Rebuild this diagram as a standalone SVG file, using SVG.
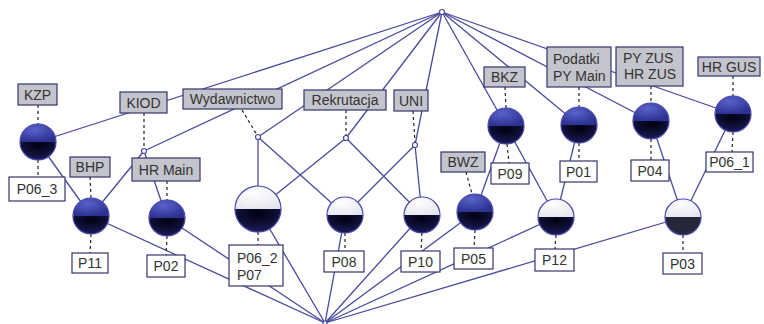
<svg xmlns="http://www.w3.org/2000/svg" width="764" height="324" viewBox="0 0 764 324">
<style>
.e{stroke:#4a4a9e;stroke-width:1.3;fill:none}
.d{stroke:#222;stroke-width:1.2;stroke-dasharray:3 3;fill:none}
.al{fill:#c4c4cc;stroke:#34346e;stroke-width:1.2}
.ol{fill:#fff;stroke:#34346e;stroke-width:1.2}
.t{font-family:"Liberation Sans",Arial,sans-serif;font-size:14px;fill:#333}
.m{text-anchor:middle}
.bt{fill:url(#gb)}
.bk{fill:url(#gk)}
.wt{fill:url(#gw)}
.ring{fill:none;stroke:#4a4aa8;stroke-width:1.2}
.sm{fill:#fff;stroke:#4a4a9e;stroke-width:1.2}
</style>
<defs>
<radialGradient id="gb" cx="0.4" cy="0.3" r="0.7"><stop offset="0" stop-color="#5a62cc"/><stop offset="1" stop-color="#2c3290"/></radialGradient>
<radialGradient id="gk" cx="0.5" cy="0.2" r="0.8"><stop offset="0" stop-color="#000010"/><stop offset="1" stop-color="#1c1c58"/></radialGradient>
<radialGradient id="gw" cx="0.4" cy="0.3" r="0.8"><stop offset="0" stop-color="#ffffff"/><stop offset="1" stop-color="#e4e4ee"/></radialGradient>
<g id="ab">
<path class="bt" d="M-18,0 A18,18 0 0 1 18,0 Z"/>
<path class="bk" d="M-18,0 A18,18 0 0 0 18,0 Z"/>
<circle class="ring" r="18"/>
</g>
<g id="wb">
<path class="wt" d="M-18,0 A18,18 0 0 1 18,0 Z"/>
<path class="bk" d="M-18,0 A18,18 0 0 0 18,0 Z"/>
<circle class="ring" r="18"/>
</g>
</defs>
<rect width="764" height="324" fill="#fff"/>
<g id="connectors">
<line class="e" x1="442" y1="12" x2="38" y2="142"/>
<line class="e" x1="442" y1="12" x2="144" y2="151"/>
<line class="e" x1="442" y1="12" x2="258" y2="137"/>
<line class="e" x1="442" y1="12" x2="346" y2="138"/>
<line class="e" x1="442" y1="12" x2="415" y2="145"/>
<line class="e" x1="442" y1="12" x2="506" y2="126"/>
<line class="e" x1="442" y1="12" x2="579" y2="125"/>
<line class="e" x1="442" y1="12" x2="651" y2="121"/>
<line class="e" x1="442" y1="12" x2="733" y2="114"/>
<line class="e" x1="38" y1="142" x2="91" y2="216"/>
<line class="e" x1="144" y1="151" x2="91" y2="216"/>
<line class="e" x1="144" y1="151" x2="167" y2="218"/>
<line class="e" x1="258" y1="137" x2="258" y2="209"/>
<line class="e" x1="346" y1="138" x2="258" y2="209"/>
<line class="e" x1="258" y1="137" x2="345" y2="215"/>
<line class="e" x1="415" y1="145" x2="345" y2="215"/>
<line class="e" x1="346" y1="138" x2="422" y2="215"/>
<line class="e" x1="415" y1="145" x2="422" y2="215"/>
<line class="e" x1="506" y1="126" x2="475" y2="212"/>
<line class="e" x1="506" y1="126" x2="556" y2="217"/>
<line class="e" x1="579" y1="125" x2="556" y2="217"/>
<line class="e" x1="651" y1="121" x2="683" y2="217"/>
<line class="e" x1="733" y1="114" x2="683" y2="217"/>
<line class="e" x1="325" y1="323" x2="91" y2="216"/>
<line class="e" x1="325" y1="323" x2="167" y2="218"/>
<line class="e" x1="325" y1="323" x2="258" y2="209"/>
<line class="e" x1="325" y1="323" x2="345" y2="215"/>
<line class="e" x1="325" y1="323" x2="422" y2="215"/>
<line class="e" x1="325" y1="323" x2="475" y2="212"/>
<line class="e" x1="325" y1="323" x2="556" y2="217"/>
<line class="e" x1="325" y1="323" x2="683" y2="217"/>
<line class="d" x1="38" y1="105" x2="38" y2="124"/>
<line class="d" x1="38" y1="160" x2="38" y2="177"/>
<line class="d" x1="90" y1="177" x2="91" y2="198"/>
<line class="d" x1="91" y1="234" x2="90" y2="253"/>
<line class="d" x1="144" y1="113" x2="144" y2="149"/>
<line class="d" x1="167" y1="181" x2="167" y2="200"/>
<line class="d" x1="167" y1="236" x2="166" y2="255"/>
<line class="d" x1="242" y1="110" x2="257" y2="135"/>
<line class="d" x1="346" y1="110" x2="346" y2="136"/>
<line class="d" x1="413" y1="111" x2="415" y2="143"/>
<line class="d" x1="258" y1="232" x2="258" y2="245"/>
<line class="d" x1="345" y1="233" x2="345" y2="251"/>
<line class="d" x1="422" y1="233" x2="421" y2="251"/>
<line class="d" x1="466" y1="172" x2="472" y2="194"/>
<line class="d" x1="475" y1="230" x2="474" y2="248"/>
<line class="d" x1="505" y1="87" x2="506" y2="108"/>
<line class="d" x1="507" y1="144" x2="509" y2="163"/>
<line class="d" x1="579" y1="87" x2="579" y2="107"/>
<line class="d" x1="579" y1="143" x2="579" y2="161"/>
<line class="d" x1="556" y1="235" x2="555" y2="249"/>
<line class="d" x1="651" y1="86" x2="651" y2="103"/>
<line class="d" x1="651" y1="139" x2="651" y2="160"/>
<line class="d" x1="733" y1="76" x2="733" y2="96"/>
<line class="d" x1="733" y1="132" x2="732" y2="152"/>
<line class="d" x1="683" y1="235" x2="683" y2="253"/>
</g>
<g id="top"><circle class="sm" cx="442" cy="12" r="2.5"/></g>
<g id="bottom"><circle class="sm" cx="325" cy="323" r="2"/></g>
<g id="n-kzp">
<rect class="al" x="18" y="84" width="39" height="21"/><text class="t m" x="37.5" y="99.5">KZP</text>
<use href="#ab" x="38" y="142"/>
<rect class="ol" x="9" y="177" width="56" height="24"/><text class="t m" x="37" y="194">P06_3</text>
</g>
<g id="n-kiod">
<rect class="al" x="120" y="92" width="47" height="21"/><text class="t m" x="143.5" y="107.5">KIOD</text>
<circle class="sm" cx="144" cy="151" r="2.5"/>
</g>
<g id="n-bhp">
<rect class="al" x="70" y="157" width="40" height="20"/><text class="t m" x="90" y="172">BHP</text>
<use href="#ab" x="91" y="216"/>
<rect class="ol" x="72" y="253" width="36" height="20"/><text class="t m" x="90" y="268">P11</text>
</g>
<g id="n-hrmain">
<rect class="al" x="132" y="158" width="68" height="23"/><text class="t m" x="166" y="174.5">HR Main</text>
<use href="#ab" x="167" y="218"/>
<rect class="ol" x="147" y="255" width="38" height="22"/><text class="t m" x="166" y="271">P02</text>
</g>
<g id="n-wyd">
<rect class="al" x="183" y="89" width="99" height="20"/><text class="t m" x="232.5" y="104">Wydawnictwo</text>
<circle class="sm" cx="258" cy="137" r="2.5"/>
</g>
<g id="n-rek">
<rect class="al" x="304" y="90" width="82" height="20"/><text class="t m" x="345" y="105">Rekrutacja</text>
<circle class="sm" cx="346" cy="138" r="2.5"/>
</g>
<g id="n-uni">
<rect class="al" x="394" y="90" width="34" height="21"/><text class="t m" x="411" y="105.5">UNI</text>
<circle class="sm" cx="415" cy="145" r="2.5"/>
</g>
<g id="n-p06_2">
<path class="wt" d="M235,209 A23,23 0 0 1 281,209 Z"/>
<path class="bk" d="M235,209 A23,23 0 0 0 281,209 Z"/>
<circle class="ring" cx="258" cy="209" r="23"/>
<rect class="ol" x="229" y="245" width="54" height="41"/>
<text class="t" x="237" y="263">P06_2</text><text class="t" x="237" y="280">P07</text>
</g>
<g id="n-p08">
<use href="#wb" x="345" y="215"/>
<rect class="ol" x="324" y="251" width="40" height="21"/><text class="t m" x="344" y="266.5">P08</text>
</g>
<g id="n-p10">
<use href="#wb" x="422" y="215"/>
<rect class="ol" x="401" y="251" width="39" height="21"/><text class="t m" x="420.5" y="266.5">P10</text>
</g>
<g id="n-bwz">
<rect class="al" x="441" y="152" width="44" height="20"/><text class="t m" x="463" y="167">BWZ</text>
<use href="#ab" x="475" y="212"/>
<rect class="ol" x="454" y="248" width="39" height="21"/><text class="t m" x="473.5" y="263.5">P05</text>
</g>
<g id="n-bkz">
<rect class="al" x="484" y="67" width="41" height="20"/><text class="t m" x="504.5" y="82">BKZ</text>
<use href="#ab" x="506" y="126"/>
<rect class="ol" x="491" y="163" width="38" height="21"/><text class="t m" x="510" y="178.5">P09</text>
</g>
<g id="n-podatki">
<rect class="al" x="547" y="47" width="64" height="40"/>
<text class="t" x="553" y="64">Podatki</text><text class="t" x="553" y="81">PY Main</text>
<use href="#ab" x="579" y="125"/>
<rect class="ol" x="560" y="161" width="37" height="21"/><text class="t m" x="578.5" y="176.5">P01</text>
</g>
<g id="n-p12">
<use href="#wb" x="556" y="217"/>
<rect class="ol" x="535" y="249" width="39" height="22"/><text class="t m" x="554.5" y="265">P12</text>
</g>
<g id="n-pyzus">
<rect class="al" x="616" y="47" width="67" height="39"/>
<text class="t" x="623" y="63">PY ZUS</text><text class="t" x="624" y="79">HR ZUS</text>
<use href="#ab" x="651" y="121"/>
<rect class="ol" x="631" y="160" width="38" height="21"/><text class="t m" x="650" y="175.5">P04</text>
</g>
<g id="n-hrgus">
<rect class="al" x="698" y="57" width="62" height="19"/><text class="t m" x="729" y="71.5">HR GUS</text>
<use href="#ab" x="733" y="114"/>
<rect class="ol" x="706" y="152" width="47" height="20"/><text class="t m" x="729.5" y="167">P06_1</text>
</g>
<g id="n-p03">
<path class="wt" d="M665,217 A18,18 0 0 1 701,217 Z"/>
<path fill="#26263a" d="M665,217 A18,18 0 0 0 701,217 Z"/>
<circle class="ring" cx="683" cy="217" r="18"/>
<rect class="ol" x="663" y="253" width="39" height="21"/><text class="t m" x="682.5" y="268.5">P03</text>
</g>
</svg>
